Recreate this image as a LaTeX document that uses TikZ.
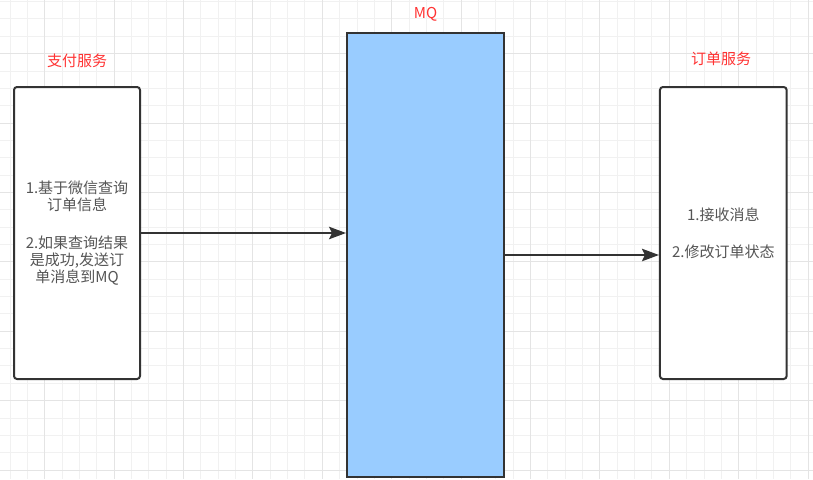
\documentclass[tikz,border=0pt]{standalone}
\usepackage{fontspec}
\setmainfont{Noto Sans CJK SC}
\usetikzlibrary{arrows.meta}
\definecolor{gridminor}{HTML}{F1F1F1}
\definecolor{gridmajor}{HTML}{E4E4E4}
\definecolor{strokec}{HTML}{333333}
\definecolor{mqfill}{HTML}{99CCFF}
\definecolor{lblc}{HTML}{FF3333}
\definecolor{txtc}{HTML}{555555}
\begin{document}
\begin{tikzpicture}[x=1pt,y=-1pt,
  svc/.style={draw=strokec, line width=2pt, rounded corners=3pt, fill=white, inner sep=0pt,
    text=txtc, align=center, font=\fontsize{15pt}{16.7pt}\selectfont},
  queue/.style={draw=strokec, line width=2pt, fill=mqfill, inner sep=0pt},
  lbl/.style={text=lblc, font=\fontsize{15pt}{18pt}\selectfont, inner sep=0pt},
  arr/.style={draw=strokec, line width=1.5pt, -{Stealth[length=17pt,width=12.5pt,inset=3pt]}}]
\useasboundingbox (0,0) rectangle (813,479);
\fill[white] (0,0) rectangle (813,479);
\foreach \i in {0,...,46} {\draw[gridminor, line width=1pt] ({10+\i*17.35},0) -- ({10+\i*17.35},479);}
\foreach \i in {0,...,27} {\draw[gridminor, line width=1pt] (0,{1.6+\i*17.35}) -- (813,{1.6+\i*17.35});}
\foreach \i in {2,6,...,46} {\draw[gridmajor, line width=1pt] ({10+\i*17.35},0) -- ({10+\i*17.35},479);}
\foreach \i in {3,7,...,27} {\draw[gridmajor, line width=1pt] (0,{1.6+\i*17.35}) -- (813,{1.6+\i*17.35});}

\node[svc, minimum width=126pt, minimum height=292pt] (pay) at (77,233)
  {1.基于微信查询\\订单信息\\[21.6pt]2.如果查询结果\\是成功,发送订\\单消息到MQ};
\node[queue, minimum width=157pt, minimum height=444pt] (mq) at (425.5,255) {};
\node[svc, minimum width=126.7pt, minimum height=292pt] (order) at (723.3,233)
  {1.接收消息\\[19.9pt]2.修改订单状态};

\node[lbl] (paylbl) at (77,61) {支付服务};
\node[lbl] (mqlbl) at (425.5,14) {MQ};
\node[lbl] (orderlbl) at (721,58.5) {订单服务};

\draw[arr] (pay.east) -- (pay.east -| mq.west);
\draw[arr] (mq.east) -- (mq.east -| order.west);
\end{tikzpicture}
\end{document}
